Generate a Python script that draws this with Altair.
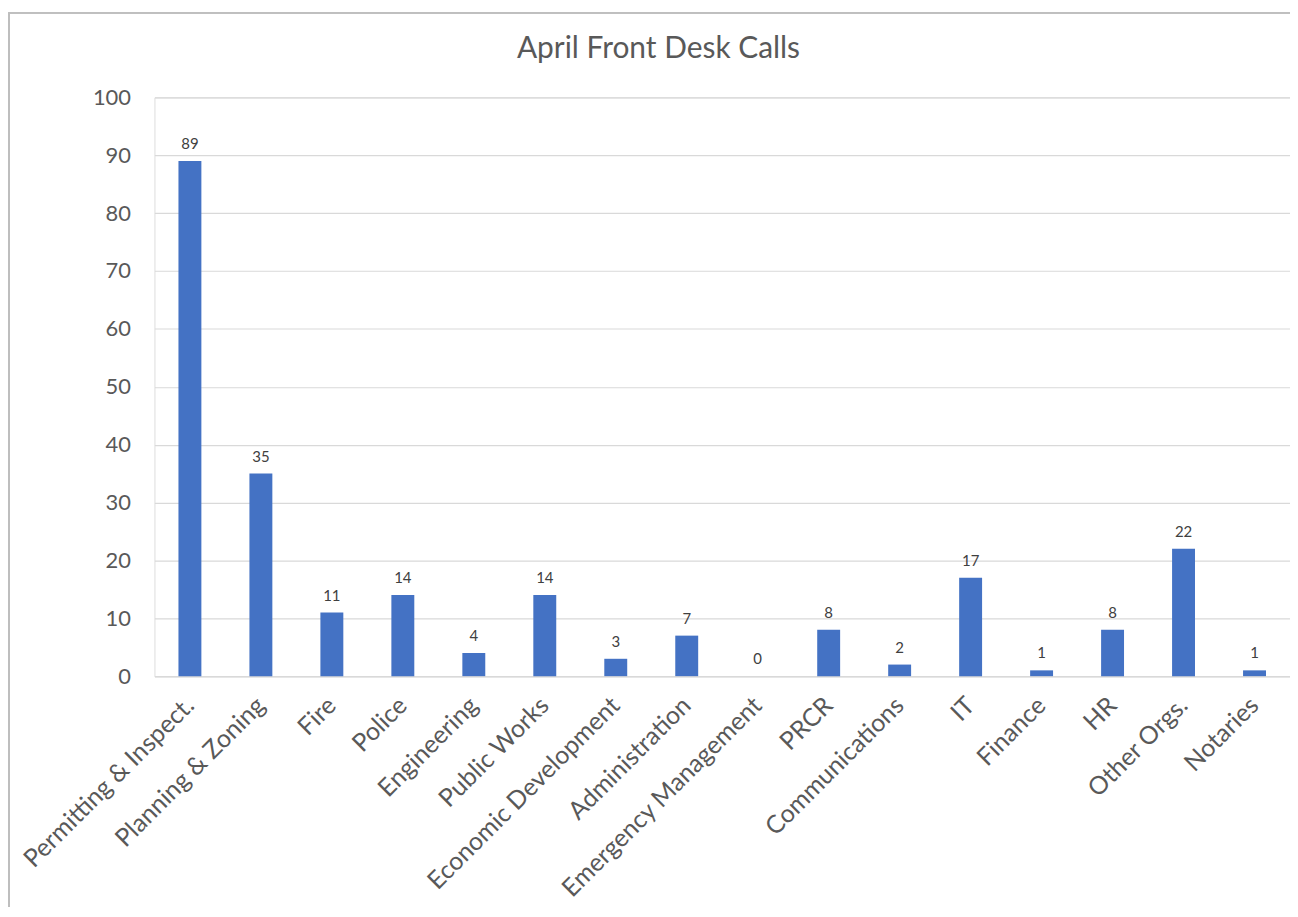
import altair as alt
import pandas as pd

categories = ["Permitting & Inspect.", "Planning & Zoning", "Fire", "Police", "Engineering",
              "Public Works", "Economic Development", "Administration", "Emergency Management",
              "PRCR", "Communications", "IT", "Finance", "HR", "Other Orgs.", "Notaries"]
calls = [89, 35, 11, 14, 4, 14, 3, 7, 0, 8, 2, 17, 1, 8, 22, 1]
y_ticks = [0, 10, 20, 30, 40, 50, 60, 70, 80, 90, 100]
title_text = ["April Front Desk Calls"]

df = pd.DataFrame({"dept": categories, "calls": calls})
tdf = pd.DataFrame({"t": title_text})

FONT = "Lato"
W, H = 1140, 581

x_enc = alt.X("dept:N", sort=categories, title=None,
              scale=alt.Scale(paddingInner=0.677, paddingOuter=0.3385),
              axis=alt.Axis(labelAngle=-45, labelAlign="right", labelBaseline="middle",
                            labelFont=FONT, labelFontSize=25, labelColor="#595959",
                            labelPadding=25, ticks=False, domainColor="#D9D9D9",
                            domainWidth=1.5, grid=False, labelOverlap=False,
                            labelLimit=400))
y_enc = alt.Y("calls:Q", title=None,
              scale=alt.Scale(domain=[0, 100], nice=False),
              axis=alt.Axis(values=y_ticks, labelFont=FONT, labelFontSize=22,
                            labelColor="#595959", labelPadding=24, ticks=False,
                            domain=False, gridColor="#D9D9D9", gridWidth=1.2))

bars = alt.Chart(df).mark_bar(color="#4472C4").encode(x=x_enc, y=y_enc)
labels = alt.Chart(df).mark_text(font=FONT, fontSize=15, color="#404040",
                                 baseline="alphabetic", dy=-12).encode(
    x=alt.X("dept:N", sort=categories), y="calls:Q", text="calls:Q")

title = alt.Chart(tdf).mark_text(font=FONT, fontSize=30, color="#595959",
                                 baseline="middle", align="center").encode(
    x=alt.value(506), y=alt.value(-49), text="t:N")

border_top = alt.Chart(df).mark_rule(color="#BFBFBF", strokeWidth=1.5).encode(
    x=alt.value(-146), x2=alt.value(W + 10), y=alt.value(-85))
border_left = alt.Chart(df).mark_rule(color="#BFBFBF", strokeWidth=1.5).encode(
    x=alt.value(-146), y=alt.value(-85), y2=alt.value(830))

chart = alt.layer(border_top, border_left, bars, labels, title).properties(
    width=W, height=H,
    autosize=alt.AutoSizeParams(type="none"),
    padding={"left": 147, "top": 88, "right": 0, "bottom": 230},
).configure_view(stroke=None).configure(background="white")

chart.save("out.html", embed_options={"renderer": "svg", "actions": False})
